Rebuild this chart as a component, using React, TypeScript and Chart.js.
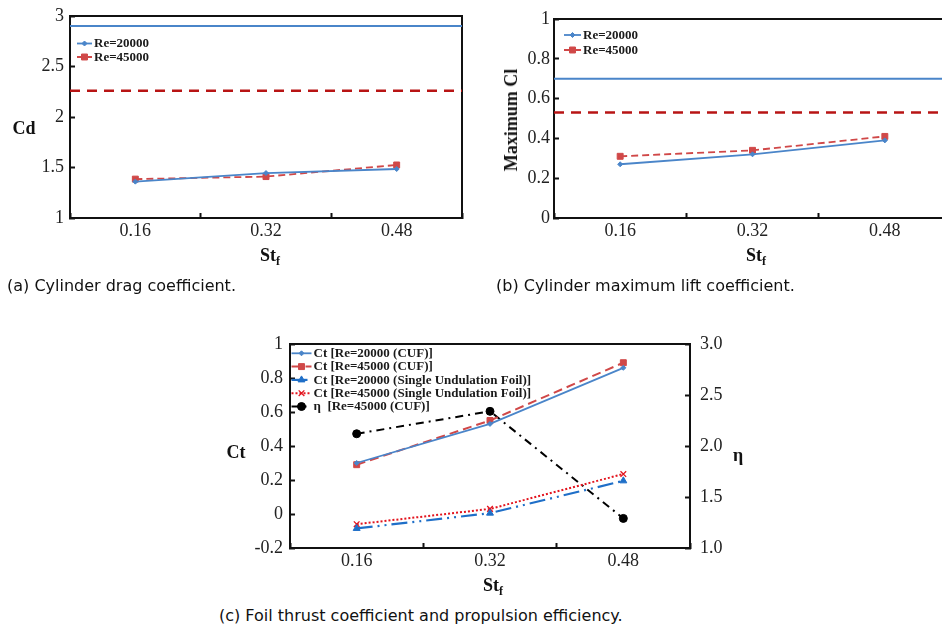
import React, { useEffect, useRef } from 'react';
import { Chart, registerables } from 'chart.js';
import { drawPoint } from 'chart.js/helpers';

Chart.register(...registerables);

// ---------- data ----------
const stValues = [0.16, 0.32, 0.48];
const stAxisTicks = [0.08, 0.16, 0.24, 0.32, 0.4, 0.48, 0.56];

// (a) cylinder drag coefficient
const cdRe20000 = [1.36, 1.445, 1.485];
const cdRe45000 = [1.385, 1.41, 1.525];
const cdBareRe20000 = 2.9;
const cdBareRe45000 = 2.26;

// (b) cylinder maximum lift coefficient
const clRe20000 = [0.27, 0.32, 0.39];
const clRe45000 = [0.31, 0.34, 0.41];
const clBareRe20000 = 0.7;
const clBareRe45000 = 0.53;

// (c) foil thrust coefficient and efficiency
const ctCufRe20000 = [0.3, 0.53, 0.86];
const ctCufRe45000 = [0.29, 0.55, 0.89];
const ctSingleRe20000 = [-0.085, 0.005, 0.195];
const ctSingleRe45000 = [-0.06, 0.03, 0.235];
const etaCufRe45000 = [2.12, 2.34, 1.29];

const legendLabelsAB = ['Re=20000', 'Re=45000'];
const legendLabelsC = [
  'Ct [Re=20000 (CUF)]',
  'Ct [Re=45000 (CUF)]',
  'Ct [Re=20000 (Single Undulation Foil)]',
  'Ct [Re=45000 (Single Undulation Foil)]',
  'η  [Re=45000 (CUF)]',
];

// ---------- styles ----------
const SERIF = '"Liberation Serif", "Times New Roman", serif';
const BLUE = '#4a85c9';
const BLUE2 = '#1f6fc8';
const RED = '#d04848';
const DARKRED = '#b81414';
const BRIGHTRED = '#e3141e';
const AXIS = '#111';
const TICKTXT = '#222';

const frame = {
  id: 'frame',
  beforeDatasetsDraw(chart: any) {
    const { ctx, chartArea } = chart;
    ctx.save();
    ctx.strokeStyle = AXIS;
    ctx.lineWidth = 2;
    ctx.setLineDash([]);
    ctx.strokeRect(chartArea.left, chartArea.top, chartArea.right - chartArea.left, chartArea.bottom - chartArea.top);
    ctx.restore();
  },
};

const insideLegend = {
  id: 'insideLegend',
  afterDatasetsDraw(chart: any, _args: any, opts: any) {
    if (!opts || !opts.enabled) return;
    const { ctx, chartArea } = chart;
    ctx.save();
    let row = 0;
    chart.data.datasets.forEach((ds: any) => {
      if (ds.showInLegend === false) return;
      const y = chartArea.top + opts.y + row * opts.rowHeight;
      const x0 = chartArea.left + opts.x;
      const x1 = x0 + opts.lineLen;
      ctx.strokeStyle = ds.borderColor;
      ctx.lineWidth = ds.borderWidth;
      ctx.setLineDash(ds.borderDash || []);
      ctx.beginPath();
      ctx.moveTo(x0, y);
      ctx.lineTo(x1, y);
      ctx.stroke();
      ctx.setLineDash([]);
      ctx.fillStyle = ds.pointBackgroundColor;
      ctx.strokeStyle = ds.pointBorderColor;
      ctx.lineWidth = ds.pointBorderWidth ?? 1;
      drawPoint(ctx, { pointStyle: ds.pointStyle, radius: ds.pointRadius, borderWidth: ds.pointBorderWidth ?? 1, rotation: 0 } as any, (x0 + x1) / 2, y);
      ctx.fillStyle = '#1a1a1a';
      ctx.font = opts.font;
      ctx.textBaseline = 'middle';
      ctx.textAlign = 'left';
      ctx.fillText(ds.label, x1 + opts.gap, y + 0.5);
      row++;
    });
    ctx.restore();
  },
};

const isLabelled = (v: number) => stValues.some((s) => Math.abs(s - v) < 1e-9);

function xAxis() {
  return {
    type: 'linear',
    min: stAxisTicks[0],
    max: stAxisTicks[stAxisTicks.length - 1],
    afterBuildTicks: (s: any) => {
      s.ticks = stAxisTicks.map((v) => ({ value: v }));
    },
    afterFit: (s: any) => {
      s.height = 52;
      s.paddingLeft = 0;
      s.paddingRight = 0;
    },
    ticks: {
      autoSkip: false,
      maxRotation: 0,
      minRotation: 0,
      padding: 7,
      color: TICKTXT,
      font: { family: SERIF, size: 18 },
      callback: (v: any) => (isLabelled(Number(v)) ? Number(v).toFixed(2) : ''),
    },
    grid: {
      drawOnChartArea: false,
      drawTicks: true,
      tickLength: -5,
      tickWidth: 2,
      tickColor: (c: any) => (c.index % 2 === 0 ? AXIS : 'rgba(0,0,0,0)'),
    },
    border: { display: true, color: AXIS, width: 2 },
  };
}

function yAxis(min: number, max: number, step: number, width: number, fmt: (v: number) => string, position = 'left', padding = 11) {
  return {
    type: 'linear',
    position,
    min,
    max,
    afterFit: (s: any) => {
      s.width = width;
      s.paddingTop = 0;
      s.paddingBottom = 0;
    },
    ticks: {
      stepSize: step,
      padding,
      color: TICKTXT,
      font: { family: SERIF, size: 18 },
      callback: (v: any) => fmt(Number(v)),
    },
    grid: { drawOnChartArea: false, drawTicks: true, tickLength: -5, tickWidth: 2, tickColor: AXIS },
    border: { display: true, color: AXIS, width: 2 },
  };
}

const pts = (vals: number[]) => stValues.map((x, i) => ({ x, y: vals[i] }));
const flat = (v: number) => [
  { x: stAxisTicks[0], y: v },
  { x: stAxisTicks[stAxisTicks.length - 1], y: v },
];

function refLine(label: string, v: number, color: string, width: number, dash: number[]) {
  return {
    label,
    showInLegend: false,
    data: flat(v),
    borderColor: color,
    borderWidth: width,
    borderDash: dash,
    pointRadius: 0,
    fill: false,
  };
}

function series(label: string, vals: number[], color: string, dash: number[], pointStyle: string, radius: number, extra: any = {}) {
  return {
    label,
    data: pts(vals),
    borderColor: color,
    borderWidth: 1.8,
    borderDash: dash,
    pointStyle,
    pointRadius: radius,
    pointBackgroundColor: color,
    pointBorderColor: color,
    pointBorderWidth: 1,
    fill: false,
    tension: 0,
    ...extra,
  };
}

const fmtPlain = (v: number) => String(Number(v.toFixed(2)));
const fmtOne = (v: number) => v.toFixed(1);

function baseOptions(padTop: number, padRight: number, legend: any, scales: any) {
  return {
    responsive: false,
    animation: false,
    devicePixelRatio: 1,
    events: [],
    layout: { padding: { top: padTop, right: padRight, left: 0, bottom: 0 } },
    plugins: {
      legend: { display: false },
      tooltip: { enabled: false },
      insideLegend: legend,
    },
    scales,
  };
}

function configA() {
  return {
    type: 'line',
    data: {
      datasets: [
        refLine('Bare cylinder Re=20000', cdBareRe20000, BLUE, 2, []),
        refLine('Bare cylinder Re=45000', cdBareRe45000, DARKRED, 2.5, [10, 7]),
        series(legendLabelsAB[0], cdRe20000, BLUE, [], 'rectRot', 2.5),
        series(legendLabelsAB[1], cdRe45000, RED, [7, 4], 'rect', 4.2),
      ],
    },
    options: baseOptions(16, 8, { enabled: true, x: 7, y: 27.5, rowHeight: 13.5, lineLen: 15, gap: 2, font: `bold 13px ${SERIF}` }, {
      x: xAxis(),
      y: yAxis(1, 3, 0.5, 70, fmtPlain),
    }),
    plugins: [frame, insideLegend],
  };
}

function configB() {
  return {
    type: 'line',
    data: {
      datasets: [
        refLine('Bare cylinder Re=20000', clBareRe20000, BLUE, 2, []),
        refLine('Bare cylinder Re=45000', clBareRe45000, DARKRED, 2.5, [10, 7]),
        series(legendLabelsAB[0], clRe20000, BLUE, [], 'rectRot', 2.5),
        series(legendLabelsAB[1], clRe45000, RED, [7, 4], 'rect', 4.2),
      ],
    },
    options: baseOptions(19, 8, { enabled: true, x: 10, y: 16, rowHeight: 15, lineLen: 17, gap: 2, font: `bold 13px ${SERIF}` }, {
      x: xAxis(),
      y: yAxis(0, 1, 0.2, 84, fmtPlain, 'left', 9),
    }),
    plugins: [frame, insideLegend],
  };
}

function configC() {
  return {
    type: 'line',
    data: {
      datasets: [
        series(legendLabelsC[0], ctCufRe20000, BLUE, [], 'rectRot', 2.5, { yAxisID: 'y' }),
        series(legendLabelsC[1], ctCufRe45000, RED, [9, 5], 'rect', 4.2, { yAxisID: 'y', borderWidth: 2 }),
        series(legendLabelsC[2], ctSingleRe20000, BLUE2, [16, 5, 2, 5, 2, 5], 'triangle', 4, { yAxisID: 'y', borderWidth: 2.2 }),
        series(legendLabelsC[3], ctSingleRe45000, BRIGHTRED, [2, 2], 'crossRot', 4, { yAxisID: 'y', borderWidth: 2, pointBorderWidth: 1.3 }),
        series(legendLabelsC[4], etaCufRe45000, '#000', [8, 5, 2, 5], 'circle', 4, { yAxisID: 'y1', borderWidth: 2 }),
      ],
    },
    options: baseOptions(14, 0, { enabled: true, x: 1.5, y: 9.3, rowHeight: 13.3, lineLen: 20, gap: 2, font: `bold 13px ${SERIF}` }, {
      x: xAxis(),
      y: yAxis(-0.2, 1, 0.2, 90, fmtPlain, 'left', 12),
      y1: yAxis(1, 3, 0.5, 50, fmtOne, 'right', 15),
    }),
    plugins: [frame, insideLegend],
  };
}

function ChartCanvas({ left, top, width, height, config }: any) {
  const ref = useRef<HTMLCanvasElement>(null);
  useEffect(() => {
    const chart = new Chart(ref.current as HTMLCanvasElement, config() as any);
    return () => chart.destroy();
  }, []);
  return (
    <canvas
      ref={ref}
      width={width}
      height={height}
      style={{ position: 'absolute', left, top, width, height, display: 'block' }}
    />
  );
}

const titleStyle: React.CSSProperties = {
  position: 'absolute',
  fontFamily: SERIF,
  fontWeight: 'bold',
  fontSize: 18,
  color: '#111',
  whiteSpace: 'nowrap',
  lineHeight: '20px',
  transform: 'translate(-50%, -50%)',
};

const captionStyle: React.CSSProperties = {
  position: 'absolute',
  fontFamily: '"DejaVu Sans", sans-serif',
  fontSize: 16,
  color: '#111',
  whiteSpace: 'nowrap',
  lineHeight: '20px',
  transform: 'translateY(-50%)',
};

function StF({ x, y }: { x: number; y: number }) {
  return (
    <div style={{ ...titleStyle, left: x, top: y }}>
      St<sub style={{ fontSize: 12, verticalAlign: '-4px', lineHeight: 0 }}>f</sub>
    </div>
  );
}

export default function App() {
  return (
    <div
      style={{
        position: 'absolute',
        left: 0,
        top: 0,
        width: 942,
        height: 625,
        overflow: 'hidden',
        background: '#fff',
      }}
    >
      <ChartCanvas left={0} top={0} width={470} height={270} config={configA} />
      <ChartCanvas left={470} top={0} width={489} height={270} config={configB} />
      <ChartCanvas left={200} top={330} width={540} height={270} config={configC} />

      <div style={{ ...titleStyle, left: 24, top: 128 }}>Cd</div>
      <div style={{ ...titleStyle, left: 511, top: 120, transform: 'translate(-50%, -50%) rotate(-90deg)' }}>Maximum Cl</div>
      <div style={{ ...titleStyle, left: 236, top: 452 }}>Ct</div>
      <div style={{ ...titleStyle, left: 738, top: 455 }}>η</div>

      <StF x={270} y={255} />
      <StF x={756} y={255} />
      <StF x={493} y={585} />

      <div style={{ ...captionStyle, left: 7, top: 286 }}>(a) Cylinder drag coefficient.</div>
      <div style={{ ...captionStyle, left: 496, top: 286 }}>(b) Cylinder maximum lift coefficient.</div>
      <div style={{ ...captionStyle, left: 219, top: 616 }}>(c) Foil thrust coefficient and propulsion efficiency.</div>
    </div>
  );
}
